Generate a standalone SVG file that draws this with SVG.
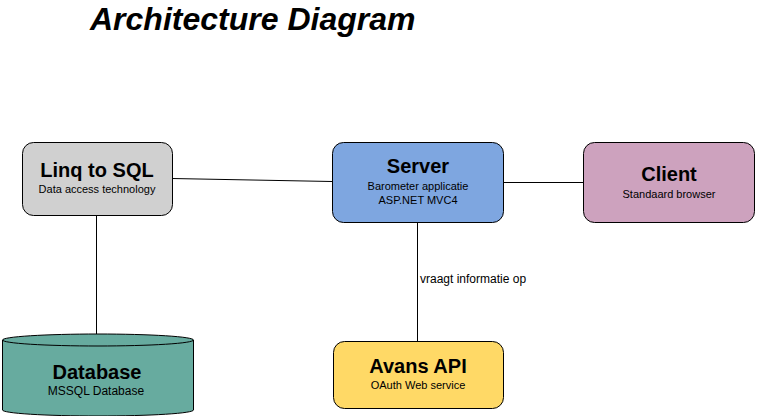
<svg xmlns="http://www.w3.org/2000/svg" width="757" height="416" viewBox="0 0 757 416">
<style>
.box{stroke:#000;stroke-width:1}
.t{font-family:"Liberation Sans",Arial,sans-serif;font-weight:bold;font-size:20px;text-anchor:middle;fill:#000}
.s{font-family:"Liberation Sans",Arial,sans-serif;font-size:11px;text-anchor:middle;fill:#000}
.e{stroke:#000;stroke-width:1;fill:none}
</style>
<rect width="757" height="416" fill="#fff"/>
<text x="90" y="30" font-family="'Liberation Sans',Arial,sans-serif" font-size="32" font-weight="bold" font-style="italic" fill="#000">Architecture Diagram</text>
<g id="connectors">
<line class="e" x1="172" y1="178.5" x2="332" y2="181.5"/>
<line class="e" x1="504" y1="182.5" x2="583" y2="182.5"/>
<line class="e" x1="96.5" y1="215" x2="96.5" y2="334"/>
<line class="e" x1="417.5" y1="222" x2="417.5" y2="341"/>
<text x="420" y="283" font-family="'Liberation Sans',Arial,sans-serif" font-size="12" fill="#000">vraagt informatie op</text>
</g>
<g id="linq">
<rect class="box" x="22.5" y="142.5" width="150" height="73" rx="11" fill="#d0d0d0"/>
<text class="t" x="97" y="177">Linq to SQL</text>
<text class="s" x="97" y="193">Data access technology</text>
</g>
<g id="server">
<rect class="box" x="332.5" y="142.5" width="171" height="80" rx="11" fill="#7ea6e0"/>
<text class="t" x="418" y="173">Server</text>
<text class="s" x="418" y="190">Barometer applicatie</text>
<text class="s" x="418" y="204">ASP.NET MVC4</text>
</g>
<g id="client">
<rect class="box" x="583.5" y="142.5" width="171" height="80" rx="11" fill="#cda2be"/>
<text class="t" x="669" y="181">Client</text>
<text class="s" x="669" y="198">Standaard browser</text>
</g>
<g id="database">
<path class="box" d="M2.5 340 A95.5 6 0 0 1 193.5 340 L193.5 410 A95.5 6 0 0 1 2.5 410 Z" fill="#67ab9f"/>
<path class="e" d="M2.5 340 A95.5 6 0 0 0 193.5 340"/>
<text class="t" x="97" y="379">Database</text>
<text class="s" x="96" y="395" style="font-size:12px">MSSQL Database</text>
</g>
<g id="avans">
<rect class="box" x="333.5" y="341.5" width="170" height="67" rx="11" fill="#ffd966"/>
<text class="t" x="418" y="373">Avans API</text>
<text class="s" x="418" y="389">OAuth Web service</text>
</g>
</svg>
